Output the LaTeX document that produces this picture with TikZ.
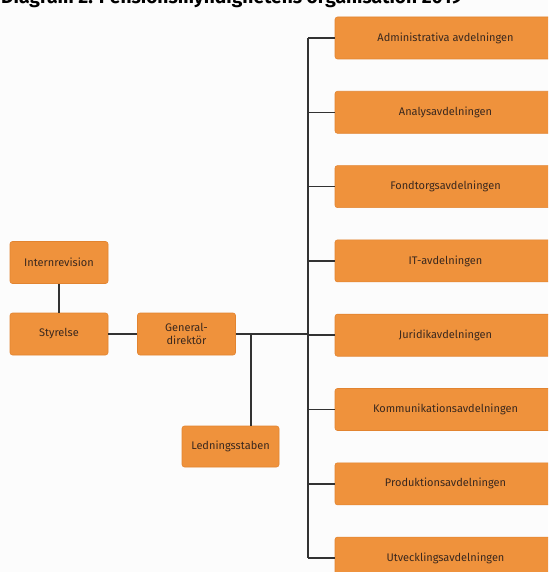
\documentclass[tikz,border=0pt]{standalone}
\usepackage{fontspec}
\setmainfont{Fira Sans}
\newfontfamily\titlefont{Fira Sans}[UprightFont=* Bold]
\definecolor{boxorange}{RGB}{239,146,60}
\definecolor{boxedge}{RGB}{226,132,48}
\definecolor{txt}{RGB}{58,40,30}
\definecolor{linecol}{RGB}{50,50,50}
\definecolor{bg}{RGB}{252,252,252}
\begin{document}
\begin{tikzpicture}[x=1pt,y=-1pt,
  orgbox/.style={draw=boxedge,line width=0.6pt,fill=boxorange,rounded corners=2.5pt,
    text=txt,font=\fontsize{11}{12.5}\selectfont,align=center,inner sep=0pt},
  leftbox/.style={orgbox,minimum width=98pt,minimum height=42pt},
  deptbox/.style={orgbox,minimum width=221pt,minimum height=42pt},
  conn/.style={draw=linecol,line width=1.5pt}]
\useasboundingbox (0,0) rectangle (548,572);
\clip (0,0) rectangle (548,572);
\fill[bg] (0,0) rectangle (548,572);
% title (cut off at the top, as in the reference)
\node[anchor=base west,inner sep=0pt,text=black,font=\titlefont\fontsize{19.2}{21}\selectfont] (title) at (1,3.5) {Diagram 2. Pensionsmyndighetens organisation 2019};
% left side
\node[leftbox] (intern) at (59,262.5) {Internrevision};
\node[leftbox] (styr) at (59,334) {Styrelse};
\node[leftbox] (gd) at (186.5,334) {General-\\direktör};
\node[leftbox,minimum width=97pt,minimum height=41pt] (led) at (230.5,446.5) {Ledningsstaben};
% departments
\node[deptbox] (d1) at (445.5,38) {Administrativa avdelningen};
\node[deptbox] (d2) at (445.5,112.3) {Analysavdelningen};
\node[deptbox] (d3) at (445.5,186.6) {Fondtorgsavdelningen};
\node[deptbox] (d4) at (445.5,260.9) {IT-avdelningen};
\node[deptbox] (d5) at (445.5,335.2) {Juridikavdelningen};
\node[deptbox] (d6) at (445.5,409.5) {Kommunikationsavdelningen};
\node[deptbox] (d7) at (445.5,483.8) {Produktionsavdelningen};
\node[deptbox] (d8) at (445.5,558.1) {Utvecklingsavdelningen};
% connectors
\coordinate (trunktop) at (308,38);
\coordinate (trunkbot) at (308,558.1);
\coordinate (join) at (308,334);
\coordinate (ledjoin) at (251,334);
\draw[conn] (intern.south) -- (styr.north);
\draw[conn] (styr.east) -- (gd.west);
\draw[conn] (gd.east) -- (join);
\draw[conn] (trunktop) -- (trunkbot);
\draw[conn] (ledjoin) -- (ledjoin |- led.north);
\foreach \d in {d1,d2,d3,d4,d5,d6,d7,d8}{
  \draw[conn] (\d.west -| trunktop) -- (\d.west);
}
\end{tikzpicture}
\end{document}
